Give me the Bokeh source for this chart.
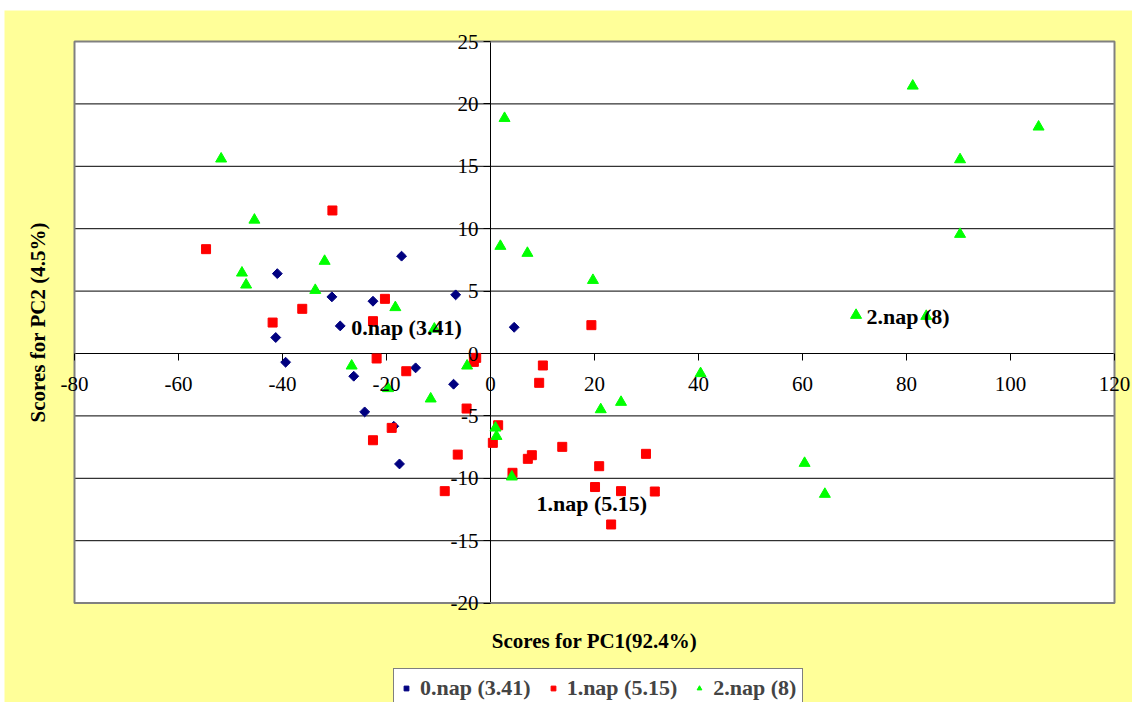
import math
from bokeh.plotting import figure
from bokeh.models import (ColumnDataSource, FixedTicker, LinearAxis, Legend, LegendItem, Range1d,
                          PrintfTickFormatter, Label)
from bokeh.core.properties import value
from bokeh.embed import file_html
from bokeh.resources import INLINE

# ---- data ----
g0_x = [-41.0, -30.5, -22.6, -17.1, -6.7, -28.9, -41.3, -39.4, -26.3, -14.4, -7.1, -24.2, -18.6, -17.5, 4.55]
g0_y = [6.4, 4.54, 4.19, 7.8, 4.7, 2.21, 1.28, -0.70, -1.82, -1.15, -2.46, -4.68, -5.83, -8.85, 2.1]

g1_x = [-54.7, -30.4, -20.3, -36.2, -41.9, -22.6, -21.9, -16.2, -2.75, -3.2, -4.6, -19.0, -22.6, -6.3, -8.8,
        1.47, 0.45, 19.4, 10.07, 9.36, 13.8, 7.95, 7.18, 29.9, 20.9, 4.23, 20.1, 25.1, 31.6, 23.2]
g1_y = [8.36, 11.46, 4.38, 3.58, 2.48, 2.59, -0.4, -1.42, -0.35, -0.67, -4.41, -5.96, -6.95, -8.1, -11.03,
        -5.75, -7.16, 2.27, -0.96, -2.35, -7.48, -8.15, -8.44, -8.04, -9.03, -9.56, -10.7, -11.03, -11.06, -13.7]

g2_x = [-51.8, -45.4, -31.9, -47.8, -47.0, -33.7, -18.3, -10.8, -26.7, -19.7, -11.5, -4.5, 0.96, 1.15, 4.1,
        2.7, 1.9, 7.1, 19.7, 40.4, 21.2, 25.1, 81.2, 105.4, 90.3, 90.3, 70.3, 83.8, 60.4, 64.3]
g2_y = [15.6, 10.7, 7.4, 6.46, 5.5, 5.07, 3.69, 1.97, -0.99, -2.8, -3.63, -0.99, -5.96, -6.63, -9.88,
        18.85, 8.6, 8.04, 5.87, -1.6, -4.49, -3.9, 21.44, 18.16, 15.54, 9.56, 3.07, 2.99, -8.79, -11.27]

series_names = ["0.nap (3.41)", "1.nap (5.15)", "2.nap (8)"]
label_x = [-26.8, 8.85, 72.3]
label_y = [2.05, -12.0, 3.0]

x_ticks = [-80, -60, -40, -20, 0, 20, 40, 60, 80, 100, 120]
y_ticks = [-20, -15, -10, -5, 0, 5, 10, 15, 20, 25]
x_title = "Scores for PC1(92.4%)"
y_title = "Scores for PC2 (4.5%)"

FONT = "Liberation Serif"
YELLOW = "#FFFF99"

# ---- layout (pixels) ----
W, H = 1128, 692
PX_X, PX_Y = 5.2, 12.48           # pixels per data unit
LEFT_PAD, TOP_PAD = 70, 31        # plot area offset inside canvas
XMIN, XMAX = x_ticks[0], x_ticks[-1]
YMIN, YMAX = y_ticks[0], y_ticks[-1]
x0 = XMIN - LEFT_PAD / PX_X
y1 = YMAX + TOP_PAD / PX_Y

p = figure(width=W, height=H, output_backend="svg", toolbar_location=None,
           x_range=Range1d(x0, x0 + W / PX_X), y_range=Range1d(y1 - H / PX_Y, y1),
           x_axis_type=None, y_axis_type=None,
           min_border_left=0, min_border_right=0, min_border_top=0, min_border_bottom=0)
p.margin = (10, 0, 0, 4)
p.background_fill_color = YELLOW
p.border_fill_color = YELLOW
p.outline_line_color = None
p.xgrid.grid_line_color = None
p.ygrid.grid_line_color = None

# plot area
p.quad(left=[XMIN], right=[XMAX], bottom=[YMIN], top=[YMAX], fill_color="white", line_color=None)
# horizontal gridlines
p.segment(x0=[XMIN] * len(y_ticks), x1=[XMAX] * len(y_ticks), y0=y_ticks, y1=y_ticks,
          line_color="black", line_width=1)
# vertical axis line at x=0
p.segment(x0=[0], x1=[0], y0=[YMIN], y1=[YMAX], line_color="black", line_width=1)
# plot area border
p.quad(left=[XMIN], right=[XMAX], bottom=[YMIN], top=[YMAX], fill_color=None,
       line_color="#808080", line_width=2)

# axes crossing at zero
xax = LinearAxis(ticker=FixedTicker(ticks=x_ticks), fixed_location=0,
                 formatter=PrintfTickFormatter(format="%d"))
yax = LinearAxis(ticker=FixedTicker(ticks=y_ticks), fixed_location=0,
                 formatter=PrintfTickFormatter(format="%d"))
for ax in (xax, yax):
    ax.axis_line_color = None
    ax.major_tick_line_color = "black"
    ax.minor_tick_line_color = None
    ax.major_tick_in = 0
    ax.major_tick_out = 7
    ax.major_label_text_font = FONT
    ax.major_label_text_font_size = "21px"
    ax.major_label_text_color = "black"
xax.major_label_standoff = 16
yax.major_label_standoff = 5
p.add_layout(xax, "below")
p.add_layout(yax, "left")

# axis titles
p.add_layout(Label(x=(XMIN + XMAX) / 2, y=YMIN - 3.0, text=x_title, text_font=FONT,
                   text_font_style="bold", text_font_size="21px", text_align="center",
                   text_baseline="middle", text_color="black"))
p.add_layout(Label(x=XMIN - 7.1, y=(YMIN + YMAX) / 2, text=y_title, text_font=FONT,
                   text_font_style="bold", text_font_size="21px", text_align="center",
                   text_baseline="middle", angle=math.pi / 2, text_color="black"))

s0 = ColumnDataSource(dict(x=g0_x, y=g0_y))
s1 = ColumnDataSource(dict(x=g1_x, y=g1_y))
s2 = ColumnDataSource(dict(x=g2_x, y=g2_y))
r0 = p.scatter("x", "y", source=s0, marker="square", angle=math.pi / 4, size=7,
               fill_color="#000080", line_color="#000080")
r1 = p.scatter("x", "y", source=s1, marker="square", size=9, fill_color="#FF0000", line_color="#FF0000")
r2 = p.scatter("x", "y", source=s2, marker="triangle", size=11, fill_color="#00FF00", line_color="#00FF00")

ls = ColumnDataSource(dict(x=label_x, y=label_y, t=series_names))
p.text("x", "y", text="t", source=ls, text_font=value(FONT), text_font_style="bold",
       text_font_size="22px", text_baseline="middle", text_align="left", text_color="black")

legend = Legend(items=[LegendItem(label=series_names[0], renderers=[r0]),
                       LegendItem(label=series_names[1], renderers=[r1]),
                       LegendItem(label=series_names[2], renderers=[r2])],
                orientation="horizontal", location=(389, -6))
legend.label_text_font = FONT
legend.label_text_font_style = "bold"
legend.label_text_font_size = "22px"
legend.border_line_color = "black"
legend.border_line_width = 1
legend.background_fill_color = "white"
legend.background_fill_alpha = 1
legend.glyph_width = 12
legend.glyph_height = 14
legend.label_standoff = 8
legend.spacing = 16
legend.padding = 6
legend.margin = 0
p.add_layout(legend, "center")

open("out.html", "w").write(file_html(p, INLINE))
